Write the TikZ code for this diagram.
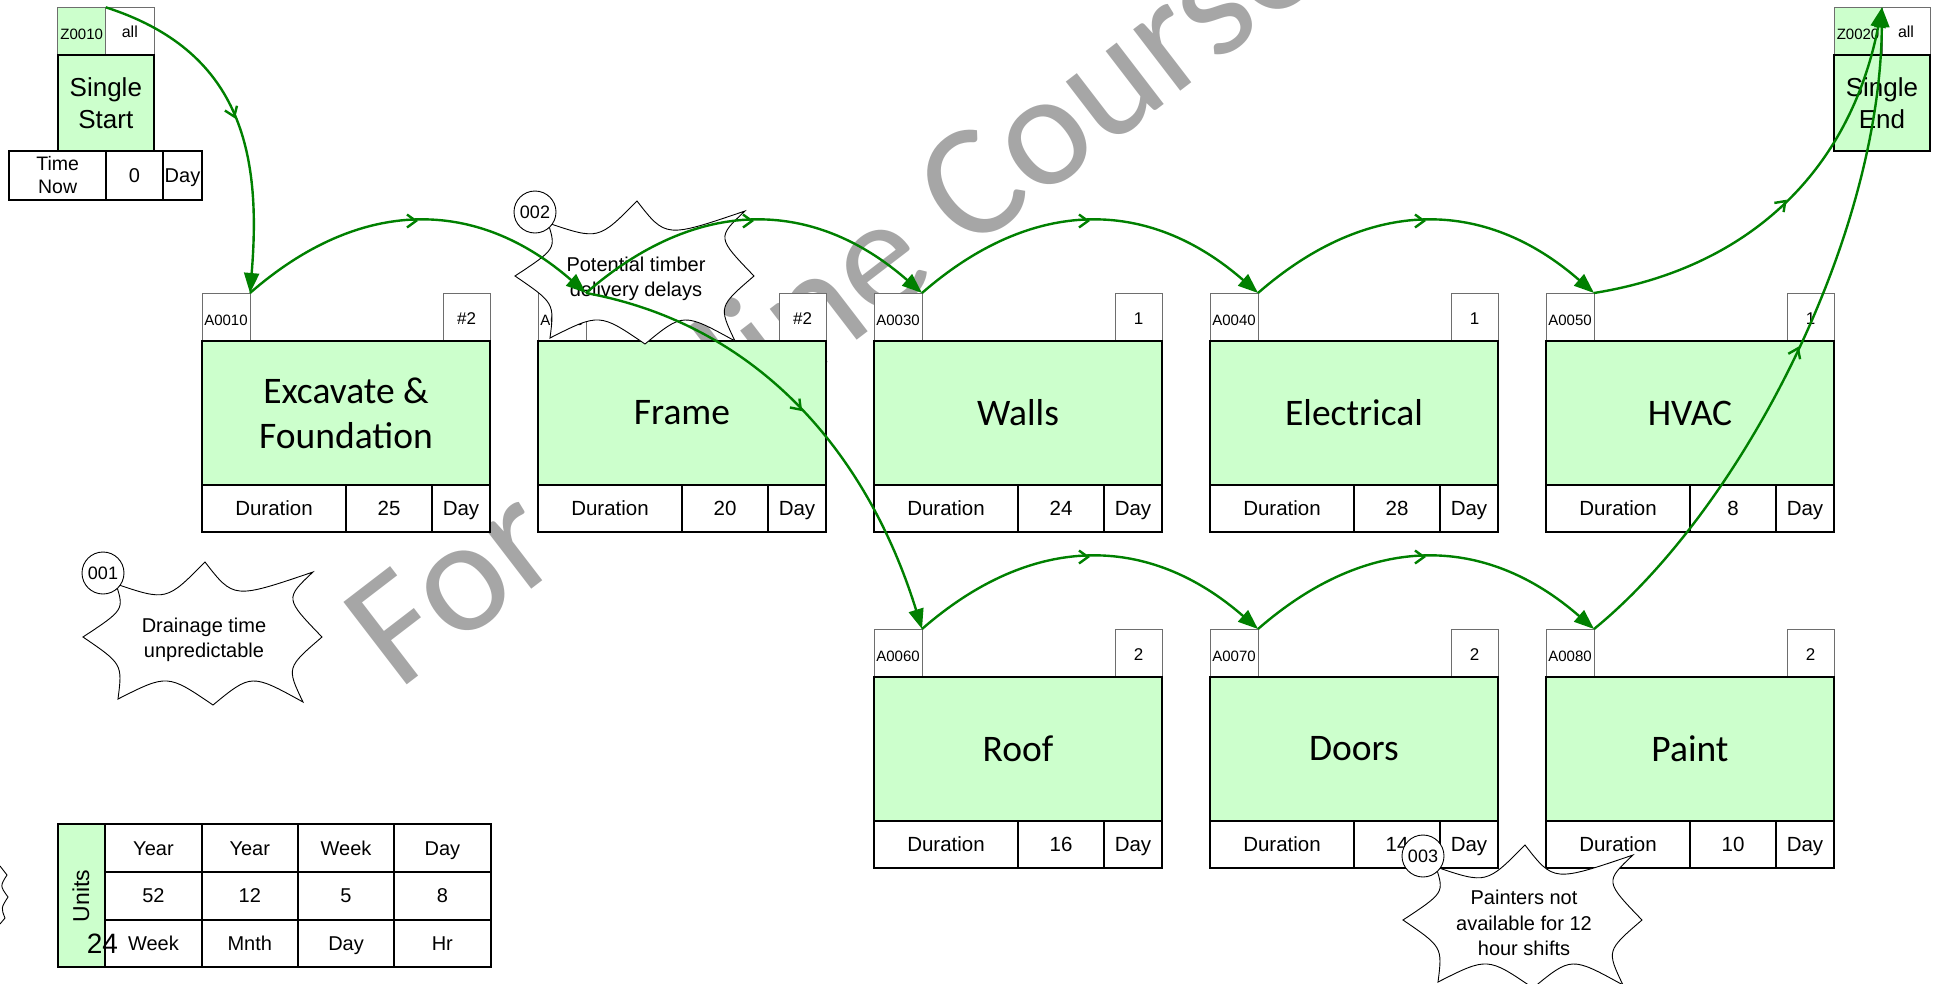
\documentclass[tikz,border=0pt]{standalone}
\usepackage{fontspec}
\setmainfont{Liberation Sans}
\newfontfamily\calibri{Carlito}
\usetikzlibrary{arrows.meta,decorations.markings,calc}

\definecolor{boxgreen}{RGB}{204,255,204}
\definecolor{flowgreen}{RGB}{0,128,0}
\definecolor{tabgray}{RGB}{110,110,110}
\definecolor{wmgray}{RGB}{166,166,166}

\newcommand\fs[2]{\fontsize{#1}{#2}\selectfont}

\tikzset{
  cellbase/.style={inner sep=0pt, outer sep=0pt, anchor=north west, align=center},
  idbox/.style={cellbase, draw=tabgray, line width=1pt, fill=white,
    minimum width=48pt, minimum height=48pt, font=\fs{15}{18},
    text height=16pt, text depth=0pt},
  numbox/.style={idbox, anchor=north east, minimum width=47pt, font=\fs{17}{20},
    text height=14.5pt},
  titlebox/.style={cellbase, draw=black, line width=2pt, fill=boxgreen,
    minimum width=288pt, minimum height=144pt, font=\calibri\fs{37.5}{45}},
  plaincell/.style={cellbase, draw=black, line width=2pt, fill=white,
    minimum height=47pt, font=\fs{20.5}{25}},
  cell/.style={plaincell, text height=14.7pt, text depth=0pt},
  ucell/.style={cell, minimum width=96.3pt, minimum height=47.8pt, font=\fs{20}{24},
    text height=14.3pt},
  cloudline/.style={draw=black, line width=0.9pt, fill=white},
  tag/.style={circle, draw=black, line width=0.9pt, fill=white, minimum size=42pt,
    inner sep=0pt, font=\fs{18}{20}, text height=12.9pt, text depth=0pt},
  cloudtext/.style={align=center, inner sep=0pt, font=\fs{20}{25.5}},
  wm/.style={text=wmgray, inner sep=0pt, font=\calibri\fs{162}{162}},
  flow/.style={draw=flowgreen, line width=2.4pt,
    -{Triangle[length=20pt,width=15pt]},
    postaction={decorate},
    decoration={markings, mark=at position 0.5 with
      {\arrow{Straight Barb[length=9pt,width=13pt]}}}},
  pics/callout/.style n args={2}{code={
    \draw[cloudline] (33,22) .. controls (83.5,39) .. (122,0)
      .. controls (150.7,37) .. (230,10)
      .. controls (201.8,36.5) .. (239,75)
      .. controls (203.5,105.5) .. (220,140)
      .. controls (168.3,111.5) .. (130,143)
      .. controls (84.5,112) .. (35,137)
      .. controls (39.5,102) .. (0,75)
      .. controls (41.2,47.8) .. (33,22) -- cycle;
    \node[tag] (-tag) at (20,11) {#1};
    \node[cloudtext] (-text) at (121,78) {#2};
  }}
}

% one activity: name, left x, top y, id, count, title, duration
\newcommand\activity[7]{%
  \node[idbox] (#1) at (#2,#3) {#4};
  \node[numbox] (#1n) at (#2+288,#3) {#5};
  \node[titlebox] (#1t) at (#2,#3+48) {#6};
  \node[cell, minimum width=144pt] (#1d) at (#2,#3+192) {Duration};
  \node[cell, minimum width=86pt] (#1v) at (#2+144,#3+192) {#7};
  \node[cell, minimum width=58pt] (#1u) at (#2+230,#3+192) {Day};
}

\begin{document}
\begin{tikzpicture}[x=1pt,y=-1pt]
\useasboundingbox (0,0) rectangle (1939,983);
\clip (0,0) rectangle (1939,983);

% watermark behind everything
\node[wm, rotate=37.5, anchor=base west] (wm) at (398,692) {For Online Course};

% start milestone
\node[idbox, fill=boxgreen] (z10) at (57.7,7.3) {Z0010};
\node[idbox, minimum width=48.3pt, font=\fs{16}{18}, text height=13pt] (z10n) at (105.7,7.3) {all};
\node[titlebox, minimum width=96.3pt, minimum height=96pt, font=\fs{26}{32}] (z10t) at (57.7,55) {Single\\Start};
\node[plaincell, minimum width=96.7pt, minimum height=49pt, font=\fs{19.5}{23}] (tn) at (9.3,151) {Time\\Now};
\node[cell, minimum width=57pt, minimum height=49pt, font=\fs{20}{23}, text height=14.3pt] (tnv) at (106,151) {0};
\node[cell, minimum width=39pt, minimum height=49pt, font=\fs{20}{23}, text height=14.3pt] (tnu) at (163,151) {Day};

% finish milestone
\node[idbox, fill=boxgreen] (z20) at (1834,7.3) {Z0020};
\node[idbox, minimum width=48pt, font=\fs{16}{18}, text height=13pt] (z20n) at (1882,7.3) {all};
\node[titlebox, minimum width=96pt, minimum height=96.4pt, font=\fs{26}{32}] (z20t) at (1834,55) {Single\\End};

% activities
\activity{a10}{202}{293}{A0010}{\#2}{Excavate \&\\Foundation}{25}
\activity{a20}{538}{293}{A0020}{\#2}{Frame}{20}
\activity{a30}{874}{293}{A0030}{1}{Walls}{24}
\activity{a40}{1210}{293}{A0040}{1}{Electrical}{28}
\activity{a50}{1546}{293}{A0050}{1}{HVAC}{8}
\activity{a60}{874}{629}{A0060}{2}{Roof}{16}
\activity{a70}{1210}{629}{A0070}{2}{Doors}{14}
\activity{a80}{1546}{629}{A0080}{2}{Paint}{10}

% units table
\node[cellbase, draw=black, line width=2pt, fill=boxgreen, minimum width=47.6pt,
  minimum height=143.4pt] (ut) at (57.7,824) {};
\node[rotate=90, font=\fs{23}{26}, inner sep=0pt] (utl) at (81,896) {Units};
\node[ucell] (u11) at (105.3,824) {Year};
\node[ucell] (u12) at (201.6,824) {Year};
\node[ucell] (u13) at (297.9,824) {Week};
\node[ucell] (u14) at (394.2,824) {Day};
\node[ucell] (u21) at (105.3,871.8) {52};
\node[ucell] (u22) at (201.6,871.8) {12};
\node[ucell] (u23) at (297.9,871.8) {5};
\node[ucell] (u24) at (394.2,871.8) {8};
\node[ucell] (u31) at (105.3,919.6) {Week};
\node[ucell] (u32) at (201.6,919.6) {Mnth};
\node[ucell] (u33) at (297.9,919.6) {Day};
\node[ucell] (u34) at (394.2,919.6) {Hr};
\node[font=\fs{28}{30}, inner sep=0pt] (u24n) at (102.5,943.5) {24};

% small callout edge at the left border
\draw[cloudline, fill=none] (0,866) .. controls (3,870) .. (7,875)
  .. controls (0,886) .. (8,897) .. controls (1,908) .. (5,918)
  .. controls (3,921) .. (0,924);

% risk callouts
\pic (n1) at (83,562) {callout={001}{Drainage time\\unpredictable}};
\pic (n2) at (515,201) {callout={002}{Potential timber\\delivery delays}};
\pic (n3) at (1403,845) {callout={003}{Painters not\\available for 12\\hour shifts}};

% logic links
\draw[flow] (z10.north east) .. controls +(134,43) and +(12,-143) .. (a10.north east);
\draw[flow] (a10.north east) .. controls +(110,-96) and +(-110,-96) .. (a20.north east);
\draw[flow] (a20.north east) .. controls +(110,-96) and +(-110,-96) .. (a30.north east);
\draw[flow] (a30.north east) .. controls +(110,-96) and +(-110,-96) .. (a40.north east);
\draw[flow] (a40.north east) .. controls +(110,-96) and +(-110,-96) .. (a50.north east);
\draw[flow] (a20.north east) .. controls +(174,32) and +(-54,-174) .. (a60.north east);
\draw[flow] (a60.north east) .. controls +(110,-96) and +(-110,-96) .. (a70.north east);
\draw[flow] (a70.north east) .. controls +(110,-96) and +(-110,-96) .. (a80.north east);
\draw[flow] (a50.north east) .. controls +(156,-25) and +(-32,163) .. (z20.north east);
\draw[flow] (a80.north east) .. controls +(146,-119) and +(-2,233) .. (z20.north east);
\end{tikzpicture}
\end{document}
